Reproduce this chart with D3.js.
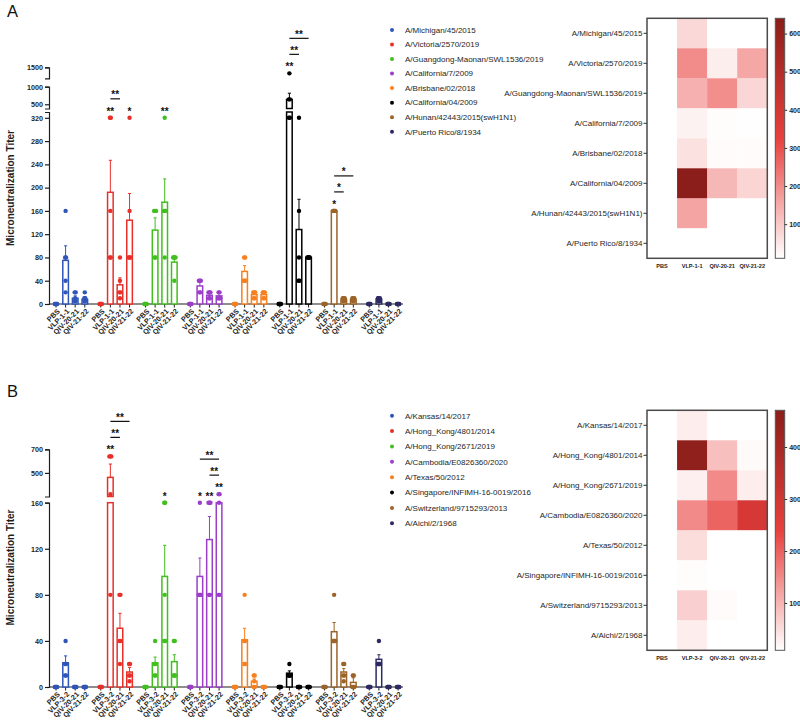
<!DOCTYPE html>
<html><head><meta charset="utf-8">
<script src="https://cdn.jsdelivr.net/npm/d3@7"></script>
<style>body{margin:0;background:#fff}</style>
</head><body><svg id="c" width="800" height="724" style="display:block;background:#fff"></svg>
<script>
// ---------------- DATA ----------------
const colorsStrain = ["#2f55b8","#e8302a","#41bf1f","#9b3fc9","#f7801f","#000000","#9c6428","#2c2a63"];

const strainsA = ["A/Michigan/45/2015","A/Victoria/2570/2019","A/Guangdong-Maonan/SWL1536/2019","A/California/7/2009","A/Brisbane/02/2018","A/California/04/2009","A/Hunan/42443/2015(swH1N1)","A/Puerto Rico/8/1934"];
const groupsA = ["PBS","VLP-1-1","QIV-20-21","QIV-21-22"];
const meanA = [[0,75,10,8],[0,192,33,144],[0,127,175,72],[0,31,15,14],[0,56,16,16],[0,640,128,80],[0,160,8,8],[0,8,0,0]];
const errA = [[null,100,14,12],[null,247,45,190],[null,148,215,80],[null,40,19,18],[null,66,19,19],[null,815,180,null],[null,null,10,10],[null,10,null,null]];
const ptsA = [
 [[0,0,0,0,0],[160,80,80,40,20],[20,20,10,5,5],[20,10,10,5,5]],
 [[0,0,0,0,0],[320,320,160,80,80],[80,40,20,20,10],[320,160,80,80,80]],
 [[0,0,0,0,0],[160,160,160,80,80],[320,160,160,160,80],[80,80,80,80,40]],
 [[0,0,0,0,0],[40,40,40,20,20],[20,20,20,10,10],[20,20,10,10,10]],
 [[0,0,0,0,0],[80,80,40,40,40],[20,20,20,10,10],[20,20,20,10,10]],
 [[0,0,0,0,0],[1280,640,640,320,320],[320,160,80,40,40],[80,80,80,80,80]],
 [[0,0,0,0,0],[160,160,160,160,160],[10,10,10,5,5],[10,10,10,5,5]],
 [[0,0,0,0,0],[10,10,10,5,5],[0,0,0,0,0],[0,0,0,0,0]]
];
const yTicksA = [0,40,80,120,160,200,240,280,320,500,1000,1500];
const starsA = [{g:1,b:1,t:"**"},{g:1,b:3,t:"*"},{g:2,b:2,t:"**"},{g:5,b:1,t:"**"},{g:6,b:1,t:"*"}];
const bracketsA = [{g:1,a:1,b:2,t:"**"},{g:5,a:1,b:2,t:"**"},{g:5,a:1,b:3,t:"**"},{g:6,a:1,b:2,t:"*"},{g:6,a:1,b:3,t:"*"}];
const heatA = [[0,75,10,10],[0,200,38,155],[0,140,195,76],[0,32,15,12],[0,60,17,17],[0,640,127,80],[0,160,0,0],[0,0,0,0]];
const cbTicksA = [100,200,300,400,500,600];

const strainsB = ["A/Kansas/14/2017","A/Hong_Kong/4801/2014","A/Hong_Kong/2671/2019","A/Cambodia/E0826360/2020","A/Texas/50/2012","A/Singapore/INFIMH-16-0019/2016","A/Switzerland/9715293/2013","A/Aichi/2/1968"];
const groupsB = ["PBS","VLP-3-2","QIV-20-21","QIV-21-22"];
const meanB = [[0,21,0,0],[0,462,51,13],[0,21,96,22],[0,96,128,192],[0,41,5,0],[0,12,0,0],[0,48,13,4],[0,24,0,0]];
const errB = [[null,27,null,null],[null,575,64,17],[null,26,123,28],[null,112,148,null],[null,51,7,null],[null,14,null,null],[null,56,16,8],[null,28,null,null]];
const ptsB = [
 [[0,0,0,0,0],[40,20,20,10,10],[0,0,0,0,0],[0,0,0,0,0]],
 [[0,0,0,0,0],[640,640,640,320,80],[80,80,40,40,20],[20,20,10,10,5]],
 [[0,0,0,0,0],[40,20,20,10,10],[160,160,80,40,40],[40,40,10,10,10]],
 [[0,0,0,0,0],[160,80,80,80,80],[160,160,160,80,80],[320,320,160,80,80]],
 [[0,0,0,0,0],[80,40,40,20,20],[10,10,5,0,0],[0,0,0,0,0]],
 [[0,0,0,0,0],[20,10,10,10,10],[0,0,0,0,0],[0,0,0,0,0]],
 [[0,0,0,0,0],[80,40,40,40,40],[20,20,10,10,5],[10,10,0,0,0]],
 [[0,0,0,0,0],[40,20,20,20,20],[0,0,0,0,0],[0,0,0,0,0]]
];
const yTicksB = [0,40,80,120,160,500,700];
const starsB = [{g:1,b:1,t:"**"},{g:2,b:2,t:"*"},{g:3,b:1,t:"*"},{g:3,b:2,t:"**"},{g:3,b:3,t:"**"}];
const bracketsB = [{g:1,a:1,b:2,t:"**"},{g:1,a:1,b:3,t:"**"},{g:3,a:2,b:3,t:"**"},{g:3,a:1,b:3,t:"**"}];
const heatB = [[0,30,0,0],[0,460,85,15],[0,28,150,30],[0,150,196,284],[0,50,0,0],[0,12,0,0],[0,66,14,0],[0,30,0,0]];
const cbTicksB = [100,200,300,400];

// ---------------- DRAW ----------------
const FONT = "'Liberation Sans', Arial, sans-serif";
const INK = "#1e1e1e";
const svg = d3.select("#c").attr("font-family", FONT);

function makeY(segs){
  const ss = segs.map(s => ({d:s.d, sc:d3.scaleLinear().domain(s.d).range(s.r)}));
  function y(v){
    for (let i=0;i<ss.length;i++){
      const s = ss[i];
      if (v <= s.d[1]) return (v >= s.d[0] || i===0) ? s.sc(v) : ss[i-1].sc(ss[i-1].d[1]);
    }
    const l = ss[ss.length-1]; return l.sc(l.d[1]);
  }
  return {y, ss};
}

function panelBars(P){
  const g = svg.append("g");
  const Y = makeY(P.segs), y = Y.y;
  const xG = d3.scaleLinear().domain([0, P.strains.length-1]).range(P.xGroup);
  const xI = d3.scaleLinear().domain([0, P.groups.length-1]).range([0, P.inner]);
  const cx = (gi,bi) => xG(gi) + xI(bi);
  const y0 = y(0);
  const bw = 5.6;

  g.append("text").attr("x",P.letterPos[0]).attr("y",P.letterPos[1]).attr("font-size",16.5).attr("fill","#111").text(P.letter);

  g.append("text").attr("transform",`translate(14,${P.titleY}) rotate(-90)`).attr("text-anchor","middle")
    .attr("font-size",10).attr("font-weight","bold").attr("fill",INK).text("Microneutralization Titer");

  Y.ss.forEach(s => {
    const ticks = P.yTicks.filter(t => t>=s.d[0] && t<=s.d[1]);
    const a = g.append("g").attr("transform",`translate(${P.axisX},0)`)
      .call(d3.axisLeft(s.sc).tickValues(ticks).tickSize(4).tickSizeOuter(4).tickPadding(2).tickFormat(d3.format("d")));
    a.attr("font-family",FONT);
    a.select(".domain").attr("stroke",INK).attr("stroke-width",1.2);
    a.selectAll(".tick line").attr("stroke",INK).attr("stroke-width",1.2);
    a.selectAll(".tick text").attr("font-size",7.2).attr("font-weight","bold").attr("fill",INK);
  });

  g.append("line").attr("x1",P.axisX).attr("x2",P.xEnd).attr("y1",y0).attr("y2",y0).attr("stroke",INK).attr("stroke-width",1.2);
  P.strains.forEach((s,gi) => P.groups.forEach((lab,bi) => {
    const x = cx(gi,bi);
    g.append("line").attr("x1",x).attr("x2",x).attr("y1",y0).attr("y2",y0+3.5).attr("stroke",INK).attr("stroke-width",1);
    g.append("text").attr("transform",`translate(${x+2.5},${y0+6}) rotate(-45)`).attr("text-anchor","end").attr("dy","0.35em")
      .attr("font-size",7.2).attr("font-weight","bold").attr("fill",INK).text(lab);
  }));

  P.means.forEach((row,gi) => row.forEach((m,bi) => {
    if (!(m > 0)) return;
    Y.ss.forEach(s => {
      if (m <= s.d[0]) return;
      const top = Math.min(m, s.d[1]);
      const yt = s.sc(top), yb = s.sc(Math.max(0,s.d[0]));
      g.append("rect").attr("x",cx(gi,bi)-bw/2).attr("y",yt).attr("width",bw).attr("height",Math.max(0.5,yb-yt))
        .attr("fill","#fff").attr("stroke",colorsStrain[gi]).attr("stroke-width",1.5);
    });
  }));

  P.errs.forEach((row,gi) => row.forEach((e,bi) => {
    if (e == null) return;
    const x = cx(gi,bi), ya = y(P.means[gi][bi]), yb = y(e);
    g.append("line").attr("x1",x).attr("x2",x).attr("y1",ya).attr("y2",yb).attr("stroke",colorsStrain[gi]).attr("stroke-width",1);
    g.append("line").attr("x1",x-1.6).attr("x2",x+1.6).attr("y1",yb).attr("y2",yb).attr("stroke",colorsStrain[gi]).attr("stroke-width",1);
  }));

  P.pts.forEach((row,gi) => row.forEach((vals,bi) => {
    const counts = d3.rollup(vals, v=>v.length, d=>d);
    const seen = new Map();
    vals.forEach(v => {
      const n = counts.get(v), k = seen.get(v) || 0; seen.set(v,k+1);
      const span = Math.min(2.4, (n-1)*1.0);
      const off = n>1 ? (k/(n-1)-0.5)*span : 0;
      g.append("circle").attr("cx",cx(gi,bi)+off).attr("cy",y(v)).attr("r",2.2).attr("fill",colorsStrain[gi]);
    });
  }));

  const starY = (gi,bi) => y(d3.max(P.pts[gi][bi])) - 9;
  P.stars.forEach(s => {
    g.append("text").attr("x",cx(s.g,s.b)).attr("y",starY(s.g,s.b)+6).attr("text-anchor","middle")
      .attr("font-size",10).attr("font-weight","bold").attr("fill","#111").text(s.t);
  });
  const levelCount = {};
  P.brackets.forEach(br => {
    const lvl = levelCount[br.g] || 0; levelCount[br.g] = lvl+1;
    const base = d3.min(P.stars.filter(s=>s.g===br.g), s=>starY(s.g,s.b));
    const ly = base - 10 - 16*lvl;
    const xa = cx(br.g,br.a), xb = cx(br.g,br.b);
    g.append("line").attr("x1",xa).attr("x2",xb).attr("y1",ly).attr("y2",ly).attr("stroke","#111").attr("stroke-width",1.2);
    g.append("text").attr("x",(xa+xb)/2).attr("y",ly-0.5).attr("text-anchor","middle")
      .attr("font-size",10).attr("font-weight","bold").attr("fill","#111").text(br.t);
  });

  const ly = d3.scalePoint().domain(P.strains).range(P.legendY);
  P.strains.forEach((s,i) => {
    g.append("circle").attr("cx",392).attr("cy",ly(s)).attr("r",2).attr("fill",colorsStrain[i]);
    g.append("text").attr("x",405).attr("y",ly(s)).attr("dy","0.35em").attr("font-size",8).attr("fill",INK).text(s);
  });
}

function panelHeat(P){
  const g = svg.append("g");
  const rows = d3.scaleBand().domain(P.strains).range([P.hTop,P.hBottom]);
  const cols = d3.scaleBand().domain(P.groups).range([647,767.3]);
  const color = d3.scaleLinear().domain([P.cMin,(P.cMin+P.cMax)/2,P.cMax]).range(["#ffffff","#e8403c","#8b1e1a"]).clamp(true);
  P.heat.forEach((row,ri) => row.forEach((v,ci) => {
    g.append("rect").attr("x",cols(P.groups[ci])).attr("y",rows(P.strains[ri]))
      .attr("width",cols.bandwidth()+0.3).attr("height",rows.bandwidth()+0.3).attr("fill",color(v));
  }));
  g.append("rect").attr("x",647).attr("y",P.hTop).attr("width",120.3).attr("height",P.hBottom-P.hTop)
    .attr("fill","none").attr("stroke","#4a4a4a").attr("stroke-width",1.5);
  P.strains.forEach(s => {
    const yy = rows(s)+rows.bandwidth()/2;
    g.append("line").attr("x1",643.5).attr("x2",647).attr("y1",yy).attr("y2",yy).attr("stroke","#333").attr("stroke-width",1);
    g.append("text").attr("x",642.5).attr("y",yy).attr("dy","0.35em").attr("text-anchor","end").attr("font-size",8).attr("fill",INK).text(s);
  });
  P.groups.forEach(c => {
    g.append("text").attr("x",cols(c)+cols.bandwidth()/2).attr("y",P.hBottom+7.5).attr("dy","0.35em").attr("text-anchor","middle")
      .attr("font-size",5.6).attr("font-weight","bold").attr("fill",INK).text(c);
  });
  const id = "grad"+P.letter;
  const grad = svg.append("defs").append("linearGradient").attr("id",id).attr("x1",0).attr("x2",0).attr("y1",1).attr("y2",0);
  d3.range(0,1.0001,0.05).forEach(t => {
    grad.append("stop").attr("offset",t).attr("stop-color",color(P.cMin + t*(P.cMax-P.cMin)));
  });
  g.append("rect").attr("x",775.3).attr("y",P.hTop).attr("width",9.4).attr("height",P.hBottom-P.hTop)
    .attr("fill",`url(#${id})`).attr("stroke","#555").attr("stroke-width",1);
  const cb = d3.scaleLinear().domain([P.cMin,P.cMax]).range([P.hBottom,P.hTop]);
  const a = g.append("g").attr("transform","translate(784.7,0)")
    .call(d3.axisRight(cb).tickValues(P.cbTicks).tickSize(2.5).tickSizeOuter(0).tickPadding(2));
  a.attr("font-family",FONT);
  a.select(".domain").remove();
  a.selectAll(".tick line").attr("stroke","#333");
  a.selectAll(".tick text").attr("font-size",7).attr("font-weight","bold").attr("fill",INK);
}

panelBars({letter:"A", letterPos:[7,16.7], titleY:188,
  strains:strainsA, groups:groupsA, means:meanA, errs:errA, pts:ptsA, yTicks:yTicksA,
  stars:starsA, brackets:bracketsA,
  segs:[{d:[0,330],r:[304,112]},{d:[380,1000],r:[108.5,86.7]},{d:[1100,1500],r:[78.3,67.3]}],
  axisX:49, xEnd:403, xGroup:[56,369.3], inner:28.8, legendY:[30,131.7]});
panelHeat({letter:"A", strains:strainsA, groups:groupsA, heat:heatA, hTop:18.3, hBottom:258.3, cMin:10.5, cMax:640, cbTicks:cbTicksA});

panelBars({letter:"B", letterPos:[7,397.3], titleY:567.5,
  strains:strainsB, groups:groupsB, means:meanB, errs:errB, pts:ptsB, yTicks:yTicksB,
  stars:starsB, brackets:bracketsB,
  segs:[{d:[0,160],r:[687,502.7]},{d:[300,700],r:[496.5,449.3]}],
  axisX:49, xEnd:403, xGroup:[56,369.3], inner:28.8, legendY:[415.7,523.3]});
panelHeat({letter:"B", strains:strainsB, groups:groupsB, heat:heatB, hTop:410.3, hBottom:650.3, cMin:9, cMax:470.6, cbTicks:cbTicksB});
</script>
</body></html>
